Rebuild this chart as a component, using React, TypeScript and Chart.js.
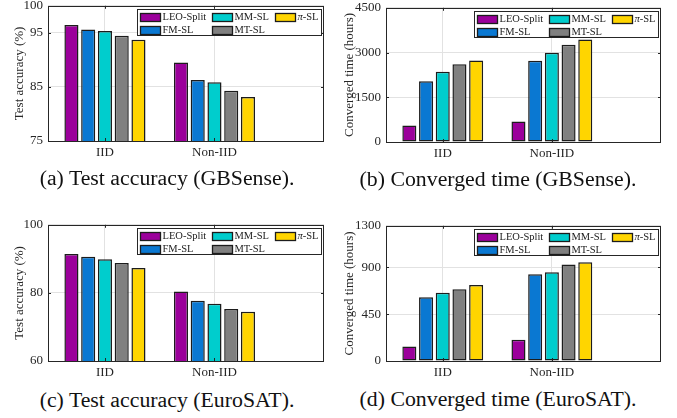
import React, { useEffect, useRef } from 'react';
import { Chart, registerables } from 'chart.js';

Chart.register(...registerables);

const FONT = '"Liberation Serif", "Times New Roman", Times, serif';

// ---- data ----
const categories = ['IID', 'Non-IID'];
const methods = ['LEO-Split', 'FM-SL', 'MM-SL', 'MT-SL', 'π-SL'];
const methodColors = ['#9b009b', '#0a78d2', '#00cdcd', '#808080', '#ffd500'];

const accGBSenseIID = [96.45, 95.6, 95.35, 94.45, 93.7];
const accGBSenseNonIID = [89.5, 86.3, 85.85, 84.3, 83.15];
const accGBSenseTicks = [75, 85, 95, 100];

const timeGBSenseIID = [550, 2040, 2355, 2610, 2735];
const timeGBSenseNonIID = [685, 2725, 2990, 3260, 3440];
const timeGBSenseTicks = [0, 1500, 3000, 4500];

const accEuroSATIID = [91.4, 90.6, 89.85, 88.8, 87.3];
const accEuroSATNonIID = [80.4, 77.7, 76.8, 75.3, 74.5];
const accEuroSATTicks = [60, 80, 100];

const timeEuroSATIID = [140, 612, 656, 691, 730];
const timeEuroSATNonIID = [204, 835, 854, 927, 949];
const timeEuroSATTicks = [0, 450, 900, 1300];

type Area = { l: number; t: number; r: number; b: number };

const AXIS_COLOR = '#262626';

const framePlugin = {
  id: 'matlabFrame',
  afterDatasetsDraw(chart: any) {
    const ctx = chart.ctx as CanvasRenderingContext2D;
    const { left, top, right, bottom } = chart.chartArea;
    const xs = chart.scales.x;
    const ys = chart.scales.y;
    ctx.save();
    ctx.strokeStyle = AXIS_COLOR;
    ctx.lineWidth = 1;
    ctx.beginPath();
    ctx.rect(Math.round(left) + 0.5, Math.round(top) + 0.5, Math.round(right - left) - 1, Math.round(bottom - top));
    ctx.stroke();
    const tl = 3;
    ctx.beginPath();
    ys.ticks.forEach((t: any) => {
      const y = Math.round(ys.getPixelForValue(t.value)) + 0.5;
      ctx.moveTo(left, y);
      ctx.lineTo(left + tl, y);
      ctx.moveTo(right, y);
      ctx.lineTo(right - tl, y);
    });
    xs.ticks.forEach((t: any) => {
      const x = Math.round(xs.getPixelForValue(t.value)) + 0.5;
      ctx.moveTo(x, bottom);
      ctx.lineTo(x, bottom - tl);
      ctx.moveTo(x, top);
      ctx.lineTo(x, top + tl);
    });
    ctx.stroke();

    // legend (3 columns x 2 rows, column-major)
    const lw = 184;
    const lh = 26;
    const lx = Math.round(right - 3 - lw) + 0.5;
    const ly = Math.round(top + 3) + 0.5;
    ctx.fillStyle = '#ffffff';
    ctx.fillRect(lx, ly, lw, lh);
    ctx.strokeStyle = AXIS_COLOR;
    ctx.lineWidth = 1;
    ctx.strokeRect(lx, ly, lw, lh);
    const colX = [2.5, 74, 137];
    const rowY = [7, 20];
    chart.data.datasets.forEach((ds: any, i: number) => {
      const col = Math.floor(i / 2);
      const row = i % 2;
      const sx = Math.round(lx + colX[col]);
      const sy = Math.round(ly + rowY[row] - 4);
      ctx.fillStyle = ds.backgroundColor;
      ctx.fillRect(sx, sy, 21, 8);
      ctx.strokeStyle = '#1c1c1c';
      ctx.lineWidth = 1.3;
      ctx.strokeRect(sx + 0.5, sy + 0.5, 20, 8);
      ctx.fillStyle = '#1a1a1a';
      ctx.textBaseline = 'middle';
      ctx.textAlign = 'left';
      const tx = sx + 22.5;
      const ty = ly + rowY[row] + 0.5;
      const label: string = ds.label;
      if (label.startsWith('π')) {
        ctx.font = `italic 10.5px ${FONT}`;
        ctx.fillText('π', tx, ty);
        const w = ctx.measureText('π').width;
        ctx.font = `10.5px ${FONT}`;
        ctx.fillText(label.slice(1), tx + w, ty);
      } else {
        ctx.font = `10.5px ${FONT}`;
        ctx.fillText(label, tx, ty);
      }
    });
    ctx.restore();
  },
};

type PanelProps = {
  iid: number[];
  nonIid: number[];
  yTicks: number[];
  yTitle: string;
  area: Area;
  canvasLeft: number;
  titleX: number;
};

function BarPanel({ iid, nonIid, yTicks, yTitle, area, canvasLeft, titleX }: PanelProps) {
  const ref = useRef<HTMLCanvasElement>(null);
  const padTop = 12;
  const padRight = 10;
  const xAxisH = 26;
  const top = area.t - padTop;
  const width = area.r + padRight - canvasLeft;
  const height = area.b + xAxisH - top;

  useEffect(() => {
    const tickFont = { family: FONT, size: 13 };
    const chart = new Chart(ref.current as HTMLCanvasElement, {
      type: 'bar',
      data: {
        datasets: methods.map((m, i) => ({
          label: m,
          data: [
            { x: 1, y: iid[i] },
            { x: 2, y: nonIid[i] },
          ],
          backgroundColor: methodColors[i],
          borderColor: '#1c1c1c',
          borderWidth: 1.5,
          borderSkipped: false,
          categoryPercentage: 0.765,
          barPercentage: 0.84,
        })),
      } as any,
      options: {
        animation: false,
        responsive: false,
        devicePixelRatio: 1,
        layout: { padding: { top: padTop, right: padRight, left: 0, bottom: 0 } },
        plugins: { legend: { display: false }, tooltip: { enabled: false } },
        scales: {
          x: {
            type: 'linear',
            min: 0.48,
            max: 3,
            offset: false,
            afterBuildTicks: (s: any) => {
              s.ticks = categories.map((_, i) => ({ value: i + 1 }));
            },
            afterFit: (s: any) => {
              s.height = xAxisH;
            },
            ticks: {
              callback: (v: any) => categories[Number(v) - 1] ?? '',
              font: tickFont,
              color: AXIS_COLOR,
              padding: 4,
              maxRotation: 0,
              autoSkip: false,
            },
            grid: { color: '#e2e2e2', drawTicks: false, lineWidth: 1, offset: false },
            border: { display: false },
          },
          y: {
            type: 'linear',
            min: yTicks[0],
            max: yTicks[yTicks.length - 1],
            afterBuildTicks: (s: any) => {
              s.ticks = yTicks.map((v) => ({ value: v }));
            },
            afterFit: (s: any) => {
              s.width = area.l - canvasLeft;
            },
            ticks: {
              font: tickFont,
              color: AXIS_COLOR,
              padding: 5,
              autoSkip: false,
              callback: (v: any) => String(v),
            },
            grid: { color: '#e2e2e2', drawTicks: false, lineWidth: 1 },
            border: { display: false },
            title: {
              display: true,
              text: yTitle,
              font: { family: FONT, size: 13 },
              color: AXIS_COLOR,
              padding: { top: titleX - canvasLeft - 7.8, bottom: 0 },
            },
          },
        },
      } as any,
      plugins: [framePlugin],
    });
    return () => chart.destroy();
  }, []);

  return (
    <canvas
      ref={ref}
      width={width}
      height={height}
      style={{ position: 'absolute', left: canvasLeft, top, width, height }}
    />
  );
}

function Caption({ text, cx, top }: { text: string; cx: number; top: number }) {
  return (
    <div
      style={{
        position: 'absolute',
        left: cx - 200,
        top,
        width: 400,
        textAlign: 'center',
        fontFamily: FONT,
        fontSize: 20,
        lineHeight: '20px',
        color: '#111',
        whiteSpace: 'nowrap',
        transform: 'scaleX(1.09)',
        transformOrigin: 'center',
      }}
    >
      {text}
    </div>
  );
}

export default function App() {
  return (
    <div
      style={{
        position: 'fixed',
        left: 0,
        top: 0,
        width: 677,
        height: 418,
        background: '#ffffff',
        overflow: 'hidden',
      }}
    >
      <BarPanel
        iid={accGBSenseIID}
        nonIid={accGBSenseNonIID}
        yTicks={accGBSenseTicks}
        yTitle="Test accuracy (%)"
        area={{ l: 48, t: 5, r: 324, b: 141 }}
        canvasLeft={0}
        titleX={20}
      />
      <BarPanel
        iid={timeGBSenseIID}
        nonIid={timeGBSenseNonIID}
        yTicks={timeGBSenseTicks}
        yTitle="Converged time (hours)"
        area={{ l: 386, t: 7, r: 661, b: 142 }}
        canvasLeft={338}
        titleX={350}
      />
      <BarPanel
        iid={accEuroSATIID}
        nonIid={accEuroSATNonIID}
        yTicks={accEuroSATTicks}
        yTitle="Test accuracy (%)"
        area={{ l: 48, t: 224, r: 324, b: 361 }}
        canvasLeft={0}
        titleX={20}
      />
      <BarPanel
        iid={timeEuroSATIID}
        nonIid={timeEuroSATNonIID}
        yTicks={timeEuroSATTicks}
        yTitle="Converged time (hours)"
        area={{ l: 386, t: 225, r: 661, b: 361 }}
        canvasLeft={338}
        titleX={350}
      />
      <Caption text="(a) Test accuracy (GBSense)." cx={167} top={168} />
      <Caption text="(b) Converged time (GBSense)." cx={498} top={169} />
      <Caption text="(c) Test accuracy (EuroSAT)." cx={167} top={390} />
      <Caption text="(d) Converged time (EuroSAT)." cx={498} top={389} />
    </div>
  );
}
